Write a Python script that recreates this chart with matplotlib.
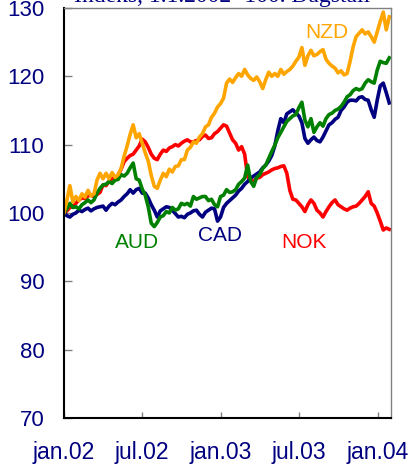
import matplotlib
matplotlib.use("Agg")
import matplotlib.pyplot as plt
import pandas as pd

# weekly observations, index 1.1.2002 = 100
dates = pd.date_range("2002-01-01", periods=109, freq="7D")

nzd = [100.0, 101.8, 104.0, 101.6, 102.4, 101.8, 102.8, 102.3, 103.3, 102.5,
       102.8, 104.8, 105.8, 105.0, 105.8, 105.0, 105.9, 105.2, 105.6, 106.5,
       108.3, 109.8, 111.5, 112.9, 111.0, 111.6, 110.2, 108.8, 107.6, 105.5,
       103.9, 103.6, 104.8, 105.8, 105.3, 106.4, 106.0, 106.8, 106.9, 107.8,
       107.8, 109.2, 109.6, 110.4, 110.2, 111.1, 111.6, 112.6, 112.9, 114.0,
       114.6, 115.5, 116.0, 116.8, 119.0, 119.6, 119.1, 119.8, 120.4, 120.0,
       121.0, 120.2, 119.7, 119.4, 119.9, 119.2, 118.2, 119.5, 120.6, 120.0,
       120.4, 120.0, 121.0, 120.3, 120.7, 121.0, 121.5, 122.2, 122.8, 124.2,
       121.6, 123.0, 123.8, 123.0, 123.2, 123.6, 123.9, 122.5, 121.9, 121.5,
       121.2, 120.5, 120.8, 120.2, 120.4, 122.2, 124.3, 125.8, 126.3, 126.8,
       126.2, 126.5, 125.8, 125.0, 126.5, 128.0, 129.4, 126.8, 128.7]
nok = [100.0, 100.3, 100.8, 100.9, 101.4, 101.9, 102.2, 102.1, 102.5, 102.6,
       102.4, 102.7, 103.0, 104.1, 104.0, 104.6, 105.0, 105.2, 105.5, 106.4,
       107.5, 108.0, 108.4, 108.6, 109.2, 109.8, 110.8, 110.4, 109.6, 108.6,
       108.0, 107.8, 108.6, 109.2, 109.0, 109.5, 109.7, 110.0, 109.8, 110.2,
       110.5, 110.7, 110.4, 110.4, 110.6, 110.7, 111.2, 111.4, 110.9, 111.0,
       111.6, 111.9, 112.4, 112.9, 112.7, 111.7, 110.7, 110.2, 109.2, 109.7,
       108.6, 105.3, 104.8, 104.6, 105.1, 105.2, 105.6, 105.8, 106.0, 106.3,
       106.5, 106.6, 106.8, 106.9, 105.8, 103.3, 102.0, 101.9, 101.4, 100.9,
       100.2, 101.2, 101.9, 101.4, 100.4, 100.0, 99.4, 100.2, 100.9, 101.5,
       101.9, 101.2, 100.9, 100.6, 100.4, 100.7, 100.9, 101.0, 101.4, 101.9,
       102.4, 103.1, 101.4, 101.0, 100.0, 98.8, 97.5, 97.8, 97.6]
aud = [100.0, 100.6, 101.4, 100.8, 100.9, 100.6, 101.2, 101.5, 101.9, 101.5,
       101.9, 102.9, 103.6, 104.1, 104.2, 104.6, 104.3, 104.8, 104.9, 105.6,
       105.4, 105.8, 106.6, 107.3, 105.0, 104.8, 103.5, 102.6, 100.9, 98.5,
       98.0, 98.6, 99.4, 99.6, 100.2, 100.0, 100.8, 100.4, 100.6, 101.4,
       101.2, 101.4, 101.0, 102.4, 102.0, 102.2, 102.4, 102.4, 101.8, 102.0,
       101.2, 100.9, 102.4, 102.6, 103.4, 103.0, 103.1, 103.4, 104.2, 104.6,
       105.1, 107.0, 104.6, 103.9, 105.2, 105.6, 106.5, 107.0, 108.0, 109.0,
       109.9, 111.0, 111.8, 112.6, 113.4, 113.8, 114.2, 114.4, 115.4, 116.2,
       113.6, 112.6, 113.8, 111.8, 112.6, 113.2, 112.7, 113.8, 114.4, 114.6,
       115.0, 115.2, 115.6, 116.2, 117.0, 117.3, 117.9, 118.2, 118.0, 118.2,
       119.0, 119.5, 119.2, 119.0, 120.9, 122.2, 122.0, 121.9, 122.7]
cad = [100.0, 99.6, 99.4, 99.8, 100.0, 100.4, 100.2, 100.5, 100.7, 100.3,
       100.6, 100.8, 100.9, 101.0, 100.4, 101.0, 101.4, 101.2, 101.6, 101.9,
       102.4, 102.8, 103.4, 102.9, 103.4, 103.6, 102.9, 102.9, 102.2, 101.2,
       100.4, 99.4, 100.3, 100.6, 100.9, 100.8, 100.4, 99.9, 99.4, 99.5,
       99.3, 99.8, 100.0, 100.3, 100.4, 99.8, 99.4, 100.1, 100.4, 100.7,
       100.6, 98.8, 99.4, 100.8, 101.4, 101.8, 102.2, 102.6, 103.2, 103.6,
       104.2, 104.6, 105.1, 105.4, 105.7, 106.0, 106.6, 107.0, 107.6, 108.4,
       109.8, 112.0, 113.8, 113.2, 114.5, 114.8, 115.1, 114.6, 114.2, 113.2,
       110.9, 110.2, 110.7, 111.1, 110.6, 110.4, 111.1, 112.0, 112.9, 113.2,
       113.7, 114.0, 115.0, 115.5, 116.2, 116.5, 116.5, 116.4, 116.9, 117.0,
       116.6, 116.5, 115.1, 114.0, 116.5, 118.6, 119.0, 117.6, 116.1]

tick_dates = ["2002-01-01", "2002-07-01", "2003-01-01", "2003-07-01", "2004-01-01"]
tick_labels = ["jan.02", "jul.02", "jan.03", "jul.03", "jan.04"]
yticks = [70, 80, 90, 100, 110, 120, 130]

navy = "#000080"

fig = plt.figure(figsize=(4.12, 4.69), dpi=100)
ax = fig.add_axes([0.155, 0.109, 0.794, 0.874])

ax.plot(dates, nok, color="#ff0000", lw=2.6)
ax.plot(dates, cad, color=navy, lw=2.6)
ax.plot(dates, aud, color="#008000", lw=2.6)
ax.plot(dates, nzd, color="#ffa500", lw=2.6)

ax.set_xlim(pd.Timestamp("2002-01-01"), pd.Timestamp("2004-01-31"))
ax.set_ylim(70, 130)
ax.set_yticks(yticks)
ax.set_xticks(pd.to_datetime(tick_dates))
ax.set_xticklabels(tick_labels)

for s in ["left", "bottom"]:
    ax.spines[s].set_color("black")
    ax.spines[s].set_linewidth(1.5)
for s in ["top", "right"]:
    ax.spines[s].set_color("#808080")
    ax.spines[s].set_linewidth(1.0)

ax.tick_params(axis="y", direction="in", length=6, color="#808080", width=1,
               labelsize=16, labelcolor=navy, pad=14)
ax.tick_params(axis="x", direction="in", length=4, color="#808080", width=1,
               labelsize=16.5, labelcolor=navy, pad=17)
for lab in ax.get_xticklabels() + ax.get_yticklabels():
    lab.set_family("Liberation Sans")

lab_font = dict(family="Liberation Sans", fontsize=15, ha="center", va="center")
ax.text(pd.Timestamp("2003-09-04"), 126.35, "NZD", color="#ffa500", **lab_font)
ax.text(pd.Timestamp("2002-06-20"), 95.6, "AUD", color="#008000", **lab_font)
ax.text(pd.Timestamp("2002-12-30"), 96.65, "CAD", color=navy, **lab_font)
ax.text(pd.Timestamp("2003-07-14"), 95.6, "NOK", color="#ff0000", **lab_font)

# heading sits partly above the figure edge, as in the source
fig.text(0.54, 0.9957, "Indeks, 1.1.2002=100. Dagstall", family="Liberation Serif",
         fontsize=17, color=navy, ha="center", va="baseline")

fig.savefig("out.png", dpi=100)
